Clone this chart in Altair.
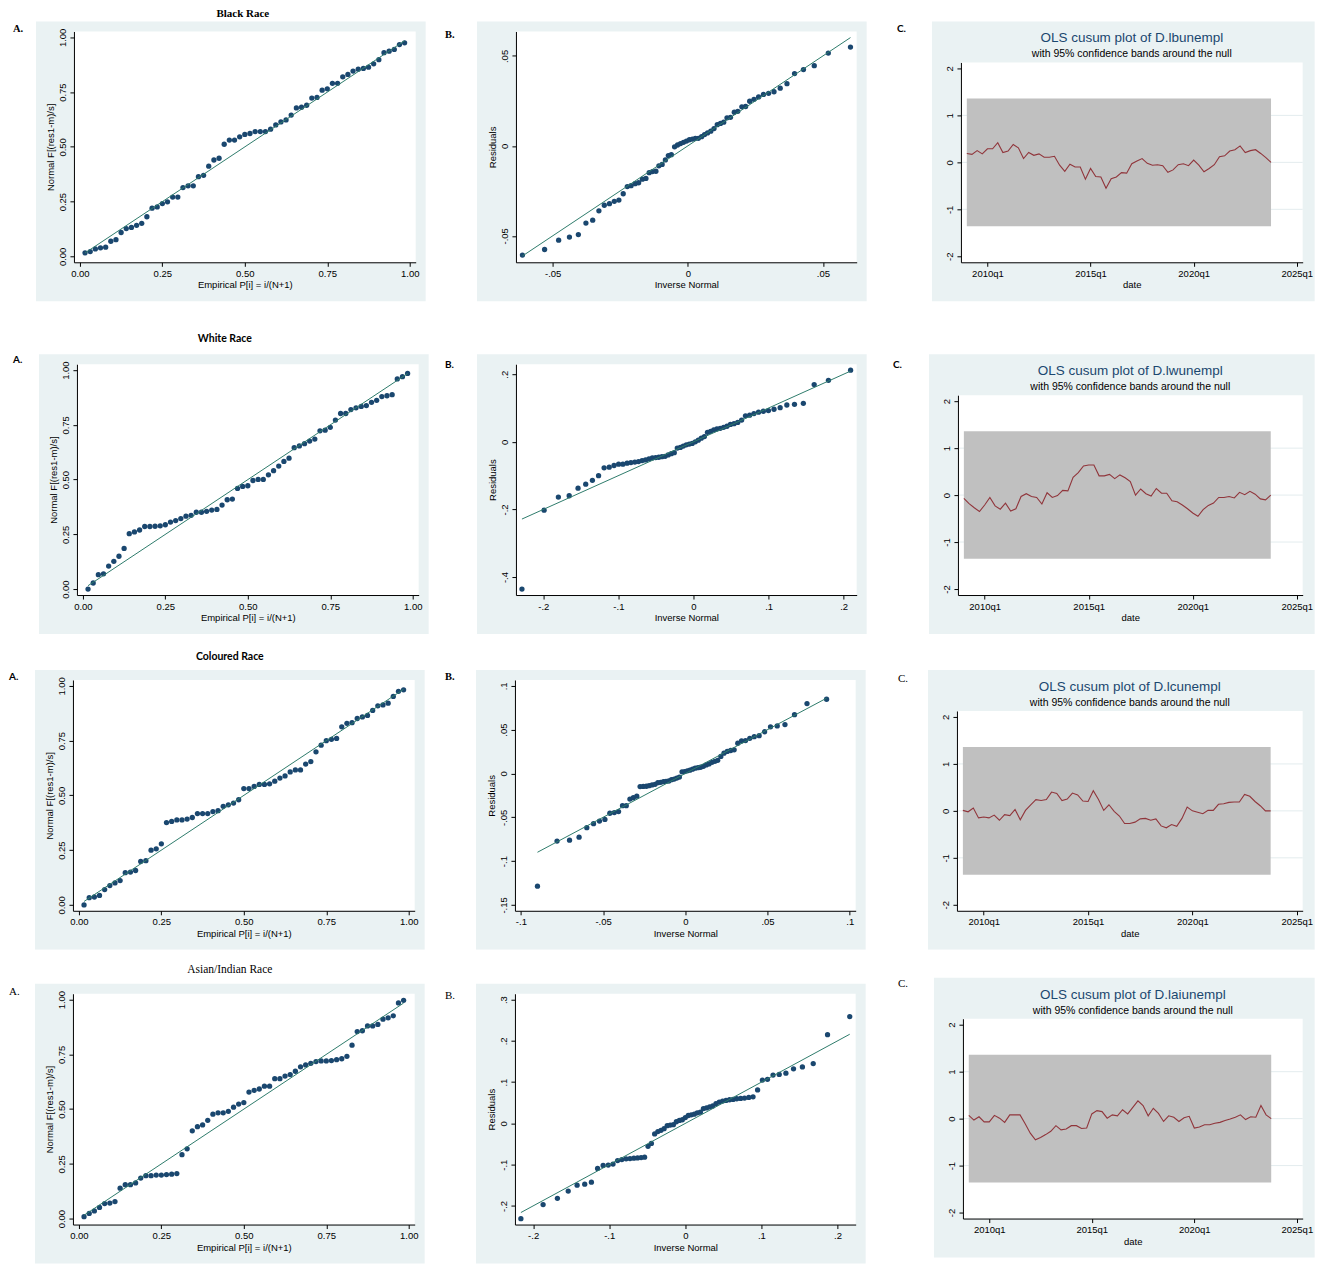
import altair as alt
import pandas as pd

# ---------------- fonts & colours ----------------
SANS = "Liberation Sans, Arial, Helvetica, sans-serif"
SERIF = "Liberation Serif, Times New Roman, serif"
CALIBRI = "Lato, Carlito, Calibri, sans-serif"
NAVY = "#1a476f"
TEAL = "#2e7b6b"
MAROON = "#90353b"
BAND_GREY = "#c0c0c0"
REGION_BG = "#eaf2f3"
GRID_C = "#e3ecee"

# ---------------- data ----------------
# Empirical P[i] = i/(N+1), N = 63
EMPIRICAL_P = [0.0156, 0.0313, 0.0469, 0.0625, 0.0781, 0.0938, 0.1094, 0.125, 0.1406, 0.1563,
               0.1719, 0.1875, 0.2031, 0.2188, 0.2344, 0.25, 0.2656, 0.2813, 0.2969, 0.3125,
               0.3281, 0.3438, 0.3594, 0.375, 0.3906, 0.4063, 0.4219, 0.4375, 0.4531, 0.4688,
               0.4844, 0.5, 0.5156, 0.5313, 0.5469, 0.5625, 0.5781, 0.5938, 0.6094, 0.625,
               0.6406, 0.6563, 0.6719, 0.6875, 0.7031, 0.7188, 0.7344, 0.75, 0.7656, 0.7813,
               0.7969, 0.8125, 0.8281, 0.8438, 0.8594, 0.875, 0.8906, 0.9063, 0.9219, 0.9375,
               0.9531, 0.9688, 0.9844]

PNORM_BLACK = [0.016, 0.022, 0.034, 0.039, 0.042, 0.069, 0.076, 0.109, 0.127, 0.132,
               0.142, 0.151, 0.181, 0.220, 0.226, 0.241, 0.249, 0.271, 0.271, 0.314,
               0.322, 0.322, 0.364, 0.370, 0.412, 0.440, 0.448, 0.512, 0.531, 0.531,
               0.546, 0.557, 0.561, 0.570, 0.570, 0.570, 0.581, 0.600, 0.614, 0.623,
               0.645, 0.678, 0.681, 0.690, 0.723, 0.726, 0.759, 0.765, 0.790, 0.790,
               0.820, 0.831, 0.846, 0.855, 0.858, 0.864, 0.879, 0.898, 0.930, 0.937,
               0.945, 0.967, 0.975]
PNORM_WHITE = [0.000, 0.028, 0.066, 0.070, 0.105, 0.127, 0.150, 0.186, 0.253, 0.261,
               0.270, 0.286, 0.286, 0.287, 0.289, 0.294, 0.306, 0.313, 0.322, 0.333,
               0.337, 0.351, 0.351, 0.355, 0.361, 0.364, 0.384, 0.408, 0.411, 0.460,
               0.469, 0.472, 0.496, 0.501, 0.501, 0.522, 0.541, 0.562, 0.583, 0.598,
               0.646, 0.654, 0.664, 0.676, 0.685, 0.723, 0.726, 0.739, 0.772, 0.802,
               0.802, 0.820, 0.828, 0.834, 0.838, 0.853, 0.862, 0.879, 0.883, 0.888,
               0.960, 0.970, 0.985]
PNORM_COLOURED = [0.000, 0.033, 0.036, 0.043, 0.070, 0.088, 0.100, 0.111, 0.147, 0.150,
                  0.157, 0.198, 0.202, 0.250, 0.256, 0.279, 0.376, 0.381, 0.388, 0.388,
                  0.392, 0.399, 0.417, 0.417, 0.417, 0.426, 0.430, 0.450, 0.457, 0.465,
                  0.480, 0.531, 0.531, 0.541, 0.550, 0.550, 0.553, 0.565, 0.579, 0.589,
                  0.607, 0.616, 0.616, 0.643, 0.654, 0.699, 0.729, 0.750, 0.756, 0.760,
                  0.813, 0.829, 0.832, 0.851, 0.858, 0.865, 0.888, 0.909, 0.913, 0.921,
                  0.952, 0.975, 0.982]
PNORM_ASIAN = [0.009, 0.024, 0.035, 0.051, 0.069, 0.071, 0.078, 0.139, 0.155, 0.155,
               0.163, 0.185, 0.196, 0.196, 0.199, 0.199, 0.201, 0.203, 0.206, 0.292,
               0.319, 0.401, 0.420, 0.428, 0.449, 0.477, 0.483, 0.483, 0.490, 0.509,
               0.523, 0.530, 0.578, 0.586, 0.592, 0.605, 0.605, 0.639, 0.639, 0.651,
               0.658, 0.673, 0.693, 0.702, 0.709, 0.717, 0.720, 0.720, 0.722, 0.726,
               0.730, 0.741, 0.792, 0.854, 0.858, 0.880, 0.880, 0.887, 0.911, 0.917,
               0.926, 0.985, 0.997]

# Inverse-normal positions (x) and sorted residuals (y) of the Q-Q plots
INV_NORMAL_BLACK = [-0.0612, -0.0530, -0.0478, -0.0438, -0.0405, -0.0377, -0.0352, -0.0329, -0.0309, -0.0290,
                    -0.0272, -0.0255, -0.0239, -0.0224, -0.0210, -0.0195, -0.0182, -0.0168, -0.0155, -0.0143,
                    -0.0131, -0.0118, -0.0107, -0.0095, -0.0083, -0.0072, -0.0061, -0.0049, -0.0038, -0.0027,
                    -0.0016, -0.0005, 0.0006, 0.0017, 0.0028, 0.0039, 0.0051, 0.0062, 0.0073, 0.0085,
                    0.0097, 0.0109, 0.0121, 0.0133, 0.0145, 0.0158, 0.0172, 0.0185, 0.0200, 0.0214,
                    0.0229, 0.0245, 0.0262, 0.0280, 0.0299, 0.0319, 0.0342, 0.0367, 0.0395, 0.0428,
                    0.0468, 0.0520, 0.0602]
RESID_BLACK = [-0.0607, -0.0576, -0.0524, -0.0507, -0.0493, -0.0429, -0.0413, -0.0361, -0.0330, -0.0321,
               -0.0308, -0.0301, -0.0266, -0.0226, -0.0221, -0.0210, -0.0205, -0.0185, -0.0181, -0.0149,
               -0.0143, -0.0141, -0.0111, -0.0103, -0.0078, -0.0054, -0.0049, -0.0005, 0.0005, 0.0013,
               0.0020, 0.0027, 0.0034, 0.0038, 0.0042, 0.0042, 0.0051, 0.0063, 0.0072, 0.0082,
               0.0096, 0.0118, 0.0125, 0.0132, 0.0156, 0.0159, 0.0187, 0.0192, 0.0217, 0.0219,
               0.0248, 0.0259, 0.0272, 0.0286, 0.0292, 0.0301, 0.0321, 0.0346, 0.0402, 0.0424,
               0.0446, 0.0516, 0.0549]

INV_NORMAL_WHITE = [-0.2284, -0.1989, -0.1799, -0.1655, -0.1537, -0.1435, -0.1346, -0.1264, -0.1190, -0.1122,
                    -0.1058, -0.0997, -0.0940, -0.0884, -0.0833, -0.0781, -0.0732, -0.0684, -0.0638, -0.0593,
                    -0.0548, -0.0504, -0.0462, -0.0420, -0.0378, -0.0337, -0.0296, -0.0256, -0.0216, -0.0175,
                    -0.0136, -0.0096, -0.0056, -0.0017, 0.0024, 0.0064, 0.0104, 0.0145, 0.0186, 0.0228,
                    0.0270, 0.0312, 0.0356, 0.0401, 0.0446, 0.0492, 0.0540, 0.0589, 0.0641, 0.0692,
                    0.0748, 0.0805, 0.0866, 0.0930, 0.0998, 0.1072, 0.1154, 0.1243, 0.1345, 0.1463,
                    0.1607, 0.1797, 0.2092]
RESID_WHITE = [-0.4356, -0.2022, -0.1633, -0.1595, -0.1371, -0.1254, -0.1138, -0.1001, -0.0768, -0.0749,
               -0.0700, -0.0661, -0.0661, -0.0632, -0.0613, -0.0600, -0.0583, -0.0554, -0.0535, -0.0506,
               -0.0476, -0.0467, -0.0457, -0.0438, -0.0428, -0.0389, -0.0350, -0.0321, -0.0185, -0.0165,
               -0.0126, -0.0088, -0.0068, -0.0049, 0.0000, 0.0049, 0.0107, 0.0156, 0.0282, 0.0311,
               0.0350, 0.0379, 0.0399, 0.0428, 0.0460, 0.0515, 0.0535, 0.0574, 0.0642, 0.0768,
               0.0788, 0.0836, 0.0875, 0.0904, 0.0924, 0.0963, 0.1011, 0.1089, 0.1108, 0.1138,
               0.1692, 0.1818, 0.2120]

INV_NORMAL_COLOURED = [-0.0899, -0.0780, -0.0704, -0.0646, -0.0599, -0.0558, -0.0522, -0.0489, -0.0459, -0.0432,
                       -0.0406, -0.0382, -0.0359, -0.0337, -0.0316, -0.0295, -0.0275, -0.0256, -0.0237, -0.0220,
                       -0.0202, -0.0184, -0.0167, -0.0150, -0.0133, -0.0117, -0.0100, -0.0084, -0.0068, -0.0052,
                       -0.0036, -0.0020, -0.0004, 0.0012, 0.0028, 0.0044, 0.0060, 0.0077, 0.0093, 0.0110,
                       0.0127, 0.0144, 0.0162, 0.0180, 0.0197, 0.0216, 0.0235, 0.0255, 0.0276, 0.0297,
                       0.0319, 0.0342, 0.0366, 0.0392, 0.0419, 0.0449, 0.0482, 0.0518, 0.0559, 0.0606,
                       0.0664, 0.0740, 0.0859]
RESID_COLOURED = [-0.1286, -0.0772, -0.0761, -0.0727, -0.0618, -0.0573, -0.0543, -0.0525, -0.0454, -0.0446,
                  -0.0435, -0.0367, -0.0367, -0.0292, -0.0277, -0.0259, -0.0150, -0.0148, -0.0146, -0.0139,
                  -0.0131, -0.0124, -0.0105, -0.0101, -0.0094, -0.0090, -0.0086, -0.0071, -0.0064, -0.0052,
                  -0.0041, 0.0019, 0.0022, 0.0030, 0.0037, 0.0049, 0.0060, 0.0066, 0.0071, 0.0082,
                  0.0097, 0.0109, 0.0127, 0.0139, 0.0150, 0.0195, 0.0232, 0.0251, 0.0262, 0.0270,
                  0.0345, 0.0371, 0.0375, 0.0401, 0.0420, 0.0431, 0.0476, 0.0532, 0.0543, 0.0558,
                  0.0671, 0.0798, 0.0847]

INV_NORMAL_ASIAN = [-0.2161, -0.1869, -0.1681, -0.1539, -0.1422, -0.1322, -0.1234, -0.1153, -0.1080, -0.1013,
                    -0.0950, -0.0890, -0.0834, -0.0778, -0.0727, -0.0676, -0.0628, -0.0581, -0.0535, -0.0490,
                    -0.0446, -0.0403, -0.0361, -0.0320, -0.0279, -0.0238, -0.0198, -0.0157, -0.0118, -0.0078,
                    -0.0039, 0.0, 0.0039, 0.0078, 0.0118, 0.0157, 0.0198, 0.0238, 0.0279, 0.0320,
                    0.0361, 0.0403, 0.0446, 0.0490, 0.0535, 0.0581, 0.0628, 0.0676, 0.0727, 0.0778,
                    0.0834, 0.0890, 0.0950, 0.1013, 0.1080, 0.1153, 0.1234, 0.1322, 0.1422, 0.1539,
                    0.1681, 0.1869, 0.2161]
RESID_ASIAN = [-0.2309, -0.1967, -0.1815, -0.1640, -0.1497, -0.1473, -0.1425, -0.1091, -0.1019, -0.1011,
               -0.0987, -0.0900, -0.0876, -0.0860, -0.0852, -0.0844, -0.0836, -0.0828, -0.0820, -0.0557,
               -0.0486, -0.0255, -0.0199, -0.0167, -0.0127, -0.0056, -0.0040, -0.0032, 0.0040, 0.0072,
               0.0088, 0.0140, 0.0191, 0.0207, 0.0223, 0.0255, 0.0271, 0.0358, 0.0374, 0.0398,
               0.0422, 0.0478, 0.0518, 0.0541, 0.0557, 0.0573, 0.0581, 0.0597, 0.0605, 0.0613,
               0.0629, 0.0645, 0.0812, 0.1051, 0.1067, 0.1170, 0.1186, 0.1218, 0.1322, 0.1369,
               0.1449, 0.2150, 0.2588]

# OLS cusum, 2009q1 .. 2023q4 (Stata %tq units: 2010q1 = 200)
QUARTERS = list(range(196, 256))
CUSUM_BLACK = [0.19, 0.17, 0.25, 0.18, 0.29, 0.29, 0.42, 0.21, 0.24, 0.38,
               0.31, 0.08, 0.21, 0.15, 0.18, 0.11, 0.11, 0.13, -0.06, -0.19,
               -0.04, -0.10, -0.10, -0.36, -0.13, -0.30, -0.31, -0.55, -0.35, -0.31,
               -0.22, -0.23, -0.03, 0.03, 0.08, -0.02, -0.06, -0.05, -0.07, -0.21,
               -0.16, -0.05, -0.03, -0.07, 0.05, -0.06, -0.20, -0.13, -0.05, 0.12,
               0.14, 0.24, 0.27, 0.35, 0.21, 0.25, 0.27, 0.19, 0.10, 0.00]
CUSUM_WHITE = [-0.07, -0.18, -0.27, -0.35, -0.21, -0.05, -0.23, -0.30, -0.17, -0.34,
               -0.29, -0.03, 0.03, -0.03, -0.05, -0.19, 0.05, -0.05, -0.01, 0.10,
               0.09, 0.38, 0.48, 0.62, 0.64, 0.64, 0.41, 0.41, 0.44, 0.35,
               0.43, 0.37, 0.29, 0.00, 0.13, 0.03, -0.02, 0.14, 0.04, 0.04,
               -0.12, -0.14, -0.21, -0.29, -0.38, -0.45, -0.31, -0.22, -0.17, -0.05,
               -0.05, -0.03, -0.06, 0.06, 0.01, 0.08, 0.02, -0.08, -0.10, 0.00]
CUSUM_COLOURED = [0.01, -0.02, 0.06, -0.15, -0.13, -0.15, -0.09, -0.20, -0.08, -0.10,
                  0.03, -0.19, 0.01, 0.13, 0.24, 0.22, 0.24, 0.40, 0.37, 0.22,
                  0.25, 0.38, 0.34, 0.21, 0.20, 0.43, 0.24, 0.01, 0.13, -0.01,
                  -0.11, -0.27, -0.27, -0.24, -0.17, -0.16, -0.20, -0.17, -0.32, -0.36,
                  -0.29, -0.33, -0.16, 0.08, 0.00, -0.03, -0.06, 0.01, 0.01, 0.14,
                  0.15, 0.18, 0.19, 0.19, 0.35, 0.31, 0.20, 0.11, 0.00, 0.00]
CUSUM_ASIAN = [0.07, -0.03, 0.04, -0.07, -0.07, 0.07, 0.01, -0.08, 0.08, 0.08,
               0.08, -0.11, -0.31, -0.45, -0.40, -0.34, -0.27, -0.15, -0.24, -0.22,
               -0.15, -0.15, -0.21, -0.20, 0.10, 0.17, 0.15, 0.01, 0.08, 0.06,
               0.19, 0.10, 0.24, 0.38, 0.28, 0.06, 0.22, 0.11, -0.06, 0.06,
               0.03, -0.06, 0.02, 0.05, -0.20, -0.18, -0.13, -0.13, -0.10, -0.08,
               -0.04, -0.01, 0.03, 0.08, -0.02, 0.04, 0.03, 0.28, 0.08, 0.00]
BAND_CV = 1.358
GRID_LEVELS = [-1, 0, 1]

P_TICKS = [0, 0.25, 0.5, 0.75, 1]
C_YTICKS = [-2, -1, 0, 1, 2]
C_XTICKS = [200, 220, 240, 260]

DEC_EXPR = "(datum.value < 0 ? '-' : '') + replace(format(abs(datum.value), '.2~f'), '0.', '.')"
INT_EXPR = "(datum.value < 0 ? '-' : '') + format(abs(datum.value), 'd')"
QTR_EXPR = "(floor(datum.value / 4) + 1960) + 'q' + (datum.value % 4 + 1)"

# ---------------- layout helpers ----------------
# every panel is a view that covers a whole grid cell; the plot area inside it
# is set through the scale ranges and the axis offsets.
PAGE = 8
CW = 1307 / 3
RH = 314
DUMMY = pd.DataFrame({"k": [0]})


def rect(x0, x1, y0, y1, color):
    return alt.Chart(DUMMY).mark_rect(fill=color, strokeWidth=0).encode(
        x=alt.value(x0), x2=alt.value(x1), y=alt.value(y0), y2=alt.value(y1))


def txt(s, x, y, font, size, weight="normal", align="left", color="#000000"):
    return alt.Chart(DUMMY).mark_text(
        text=s, font=font, fontSize=size, fontWeight=weight, align=align,
        baseline="middle", color=color).encode(x=alt.value(x), y=alt.value(y))


def axis(values, title, offset, vertical=False, label_expr=None, fmt=None):
    kw = dict(values=values, title=title, offset=offset, grid=False,
              domainColor="#000000", domainWidth=1,
              tickColor="#000000", tickWidth=1, tickSize=4, labelFont=SANS, labelFontSize=9.5,
              labelColor="#000000", labelPadding=2, labelFlush=False, labelOverlap=False,
              titleFont=SANS, titleFontSize=9.5, titleFontWeight="normal", titleColor="#000000",
              titlePadding=2, zindex=1)
    if vertical:
        kw.update(labelAngle=270, labelAlign="center", labelBaseline="bottom")
    if label_expr:
        kw["labelExpr"] = label_expr
    if fmt:
        kw["format"] = fmt
    return alt.Axis(**kw)


class Geo:
    def __init__(self, col, row, region, pl, pt, w, h):
        self.cx = PAGE + col * CW
        self.cy = PAGE + row * RH
        self.lx = pl - self.cx
        self.ty = pt - self.cy
        self.w, self.h = w, h
        self.region = region

    def xrange(self):
        return [self.lx, self.lx + self.w]

    def yrange(self):
        return [self.ty + self.h, self.ty]

    def xoff(self):
        return -(RH - self.ty - self.h)

    def yoff(self):
        return -self.lx

    def frame(self):
        r = self.region
        return [rect(0, CW, 0, RH, "#ffffff"),
                rect(r[0] - self.cx, r[2] - self.cx, r[1] - self.cy, r[3] - self.cy, REGION_BG),
                rect(self.lx, self.lx + self.w, self.ty, self.ty + self.h, "#ffffff")]

    def notes(self, specs):
        return [txt(s, x - self.cx, y - self.cy, f, sz, wt, al) for (s, x, y, f, sz, wt, al) in specs]


def pnorm_panel(col, row, rl, rt, ys, specs):
    g = Geo(col, row, (rl, rt, rl + 390, rt + 280), rl + 38, rt + 10, 342, 231)
    X = alt.X("x:Q", scale=alt.Scale(domain=[-0.018, 1.018], range=g.xrange(), nice=False, zero=False),
              axis=axis(P_TICKS, "Empirical P[i] = i/(N+1)", g.xoff(), fmt=".2f"))
    Y = alt.Y("y:Q", scale=alt.Scale(domain=[-0.027, 1.027], range=g.yrange(), nice=False, zero=False),
              axis=axis(P_TICKS, "Normal F[(res1-m)/s]", g.yoff(), vertical=True, fmt=".2f"))
    pts = alt.Chart(pd.DataFrame({"x": EMPIRICAL_P, "y": ys})).mark_circle(
        size=28, color=NAVY, opacity=1).encode(x=X, y=Y)
    ends = [EMPIRICAL_P[0], EMPIRICAL_P[-1]]
    ref = alt.Chart(pd.DataFrame({"x": ends, "y": ends})).mark_line(
        color=TEAL, strokeWidth=1).encode(x=X, y=Y)
    layers = g.frame() + [pts, ref] + g.notes(specs)
    return alt.layer(*layers).properties(width=CW, height=RH)


def qnorm_panel(col, row, rl, rt, xs, ys, xdom, ydom, xticks, yticks, specs):
    g = Geo(col, row, (rl, rt, rl + 390, rt + 280), rl + 39, rt + 10, 341, 231)
    X = alt.X("x:Q", scale=alt.Scale(domain=xdom, range=g.xrange(), nice=False, zero=False),
              axis=axis(xticks, "Inverse Normal", g.xoff(), label_expr=DEC_EXPR))
    Y = alt.Y("y:Q", scale=alt.Scale(domain=ydom, range=g.yrange(), nice=False, zero=False),
              axis=axis(yticks, "Residuals", g.yoff(), vertical=True, label_expr=DEC_EXPR))
    pts = alt.Chart(pd.DataFrame({"x": xs, "y": ys})).mark_circle(
        size=28, color=NAVY, opacity=1).encode(x=X, y=Y)
    ends = [xs[0], xs[-1]]
    ref = alt.Chart(pd.DataFrame({"x": ends, "y": ends})).mark_line(
        color=TEAL, strokeWidth=1).encode(x=X, y=Y)
    layers = g.frame() + [pts, ref] + g.notes(specs)
    return alt.layer(*layers).properties(width=CW, height=RH)


def cusum_panel(col, row, rl, rt, values, name, specs):
    pl, pt = rl + 29, rt + 41
    g = Geo(col, row, (rl, rt, 1315, rt + 280), pl, pt, 1303 - pl, 200)
    xsc = alt.Scale(domain=[194.86, 261.14], range=g.xrange(), nice=False, zero=False)
    ysc = alt.Scale(domain=[-2.128, 2.128], range=g.yrange(), nice=False, zero=False)
    xax = axis(C_XTICKS, "date", g.xoff(), label_expr=QTR_EXPR)
    yax = axis(C_YTICKS, None, g.yoff(), vertical=True, label_expr=INT_EXPR)
    grid = alt.Chart(pd.DataFrame({"g": GRID_LEVELS})).mark_rule(
        color=GRID_C, strokeWidth=1).encode(
        x=alt.value(g.lx), x2=alt.value(g.lx + g.w), y=alt.Y("g:Q", scale=ysc, axis=yax))
    band = alt.Chart(pd.DataFrame({"a": [QUARTERS[0]], "b": [QUARTERS[-1]],
                                   "lo": [-BAND_CV], "hi": [BAND_CV]})).mark_rect(
        fill=BAND_GREY, strokeWidth=0).encode(
        x=alt.X("a:Q", scale=xsc, axis=xax), x2="b:Q",
        y=alt.Y("lo:Q", scale=ysc, axis=yax), y2="hi:Q")
    line = alt.Chart(pd.DataFrame({"q": QUARTERS, "c": values})).mark_line(
        color=MAROON, strokeWidth=1.1).encode(
        x=alt.X("q:Q", scale=xsc, axis=xax), y=alt.Y("c:Q", scale=ysc, axis=yax))
    mid = g.lx + g.w / 2
    heads = [txt("OLS cusum plot of " + name, mid, g.ty - 24, SANS, 13.5, "normal", "center", NAVY),
             txt("with 95% confidence bands around the null", mid, g.ty - 8, SANS, 10.5, "normal", "center")]
    layers = g.frame() + [grid, band, line] + heads + g.notes(specs)
    return alt.layer(*layers).properties(width=CW, height=RH)


# ---------------- panels (positions in page pixels) ----------------
panels = [
    pnorm_panel(0, 0, 36, 21, PNORM_BLACK, [
        ("Black Race", 243, 14, SERIF, 11, "bold", "center"),
        ("A.", 13, 29, SERIF, 10.5, "bold", "left")]),
    qnorm_panel(1, 0, 477, 21, INV_NORMAL_BLACK, RESID_BLACK, [-0.0636, 0.0625], [-0.0647, 0.0636],
                [-0.05, 0, 0.05], [-0.05, 0, 0.05], [("B.", 445, 35, SERIF, 10.5, "bold", "left")]),
    cusum_panel(2, 0, 932, 21, CUSUM_BLACK, "D.lbunempl", [("C.", 897, 29, CALIBRI, 10, "bold", "left")]),

    pnorm_panel(0, 1, 39, 354, PNORM_WHITE, [
        ("White Race", 225, 339, CALIBRI, 10.5, "bold", "center"),
        ("A.", 13, 360, CALIBRI, 10, "bold", "left")]),
    qnorm_panel(1, 1, 477, 354, INV_NORMAL_WHITE, RESID_WHITE, [-0.2364, 0.2173], [-0.4531, 0.2295],
                [-0.2, -0.1, 0, 0.1, 0.2], [-0.4, -0.2, 0, 0.2],
                [("B.", 445, 365, CALIBRI, 10, "bold", "left")]),
    cusum_panel(2, 1, 929, 354, CUSUM_WHITE, "D.lwunempl", [("C.", 893, 365, CALIBRI, 10, "bold", "left")]),

    pnorm_panel(0, 2, 35, 670, PNORM_COLOURED, [
        ("Coloured Race", 230, 657, CALIBRI, 10.5, "bold", "center"),
        ("A.", 9, 677, CALIBRI, 10, "bold", "left")]),
    qnorm_panel(1, 2, 476, 670, INV_NORMAL_COLOURED, RESID_COLOURED, [-0.1036, 0.1036], [-0.1567, 0.1067],
                [-0.1, -0.05, 0, 0.05, 0.1], [-0.15, -0.1, -0.05, 0, 0.05, 0.1],
                [("B.", 445, 677, SERIF, 10.5, "bold", "left")]),
    cusum_panel(2, 2, 928, 670, CUSUM_COLOURED, "D.lcunempl", [("C.", 898, 679, SERIF, 11, "normal", "left")]),

    pnorm_panel(0, 3, 35, 984, PNORM_ASIAN, [
        ("Asian/Indian Race", 230, 970, SERIF, 11.5, "normal", "center"),
        ("A.", 9, 992, SERIF, 11, "normal", "left")]),
    qnorm_panel(1, 3, 476, 984, INV_NORMAL_ASIAN, RESID_ASIAN, [-0.2239, 0.2239], [-0.2452, 0.3143],
                [-0.2, -0.1, 0, 0.1, 0.2], [-0.2, -0.1, 0, 0.1, 0.2, 0.3],
                [("B.", 445, 996, SERIF, 11, "normal", "left")]),
    cusum_panel(2, 3, 934, 978, CUSUM_ASIAN, "D.laiunempl", [("C.", 898, 984, SERIF, 11, "normal", "left")]),
]

chart = alt.concat(*panels, columns=3, spacing=0, bounds="flush").properties(
    padding=0).configure_view(strokeWidth=0)

chart.save("out.html", embed_options={"renderer": "svg", "actions": False})
